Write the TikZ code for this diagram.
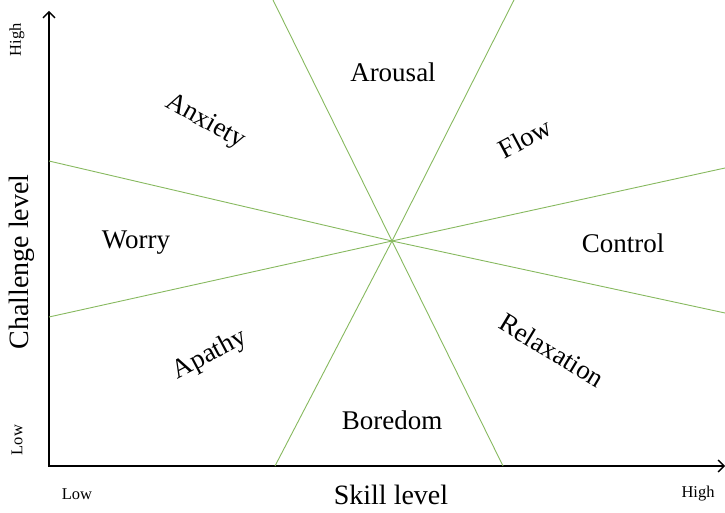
\documentclass[tikz,border=0pt]{standalone}
\usepackage{fontspec}
\setmainfont{Liberation Serif}
\usepackage{xcolor}
\usepackage{tikz}
\usetikzlibrary{arrows.meta,positioning}

\definecolor{zonegreen}{RGB}{135,185,95}

\tikzset{
  axisline/.style={line width=1.8pt,-{Straight Barb[length=6pt,width=12pt,line width=1.4pt]}},
  zoneline/.style={zonegreen,line width=0.9pt},
  zonelabel/.style={font=\fontsize{27}{30}\selectfont,inner sep=0pt},
  axislabel/.style={font=\fontsize{28}{30}\selectfont,inner sep=0pt},
  endlabel/.style={font=\fontsize{16.5}{18}\selectfont,inner sep=0pt}
}

\begin{document}
\begin{tikzpicture}[x=1pt,y=1pt]

\useasboundingbox (0,0) rectangle (725,512);

%-------------------------------------------------
% Axes
%-------------------------------------------------

\coordinate (origin) at (49,46);
\coordinate (ytop) at (49,501);
\coordinate (xend) at (725,46);

\draw[axisline] ([yshift=-0.9pt]origin) -- (ytop);
\draw[axisline] ([xshift=-0.9pt]origin) -- (xend);

\node[axislabel] (skill) at (391,17) {Skill level};
\node[axislabel,rotate=90] (challenge) at (22,250) {Challenge level};

\node[endlabel] (xlow) at (77,18) {Low};
\node[endlabel] (xhigh) at (698,18) {High};
\node[endlabel,rotate=90] (ylow) at (17,72) {Low};
\node[endlabel,rotate=90] (yhigh) at (17,472) {High};

%-------------------------------------------------
% Zone boundaries
%-------------------------------------------------

\coordinate (centre) at (392,271);

\coordinate (a1) at (273,512);
\coordinate (a2) at (503,46);
\coordinate (b1) at (514,512);
\coordinate (b2) at (275,46);
\coordinate (c1) at (49,351);
\coordinate (c2) at (725,199);
\coordinate (d1) at (49,195);
\coordinate (d2) at (725,344);

\draw[zoneline] (a1) -- (centre) -- (a2);
\draw[zoneline] (b1) -- (centre) -- (b2);
\draw[zoneline] (c1) -- (centre) -- (c2);
\draw[zoneline] (d1) -- (centre) -- (d2);

%-------------------------------------------------
% Zone names
%-------------------------------------------------

\node[zonelabel] (arousal) at (393,440) {Arousal};
\node[zonelabel,rotate=-29] (anxiety) at (205,390) {Anxiety};
\node[zonelabel,rotate=28] (flow) at (525,374) {Flow};
\node[zonelabel] (worry) at (136,269) {Worry};
\node[zonelabel] (control) at (623,269) {Control};
\node[zonelabel,rotate=28] (apathy) at (210,157) {Apathy};
\node[zonelabel,rotate=-31] (relaxation) at (552,162) {Relaxation};
\node[zonelabel] (boredom) at (392,92) {Boredom};

\end{tikzpicture}
\end{document}
